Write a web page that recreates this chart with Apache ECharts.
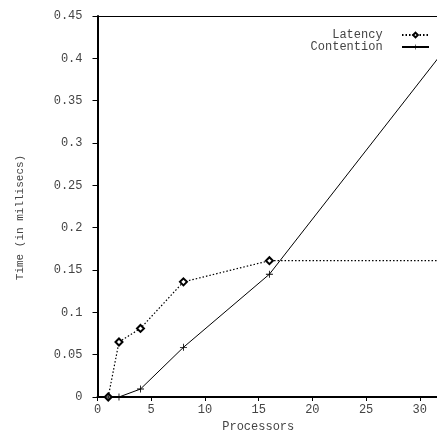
<!DOCTYPE html>
<html>
<head>
<meta charset="utf-8">
<script src="https://cdn.jsdelivr.net/npm/echarts@6/dist/echarts.min.js"></script>
<style>
  html, body { margin: 0; padding: 0; background: #fff; }
  #chart { width: 437px; height: 430px; }
</style>
</head>
<body>
<div id="chart"></div>
<script>
// processors on the x axis
var latencyX = [1, 2, 4, 8, 16, 32];
var latencyY = [0, 0.065, 0.081, 0.136, 0.161, 0.161];
var contentionX = [1, 2, 4, 8, 16, 32];
var contentionY = [0, 0, 0.0094, 0.0587, 0.145, 0.405];

function pairs(xs, ys) {
  var out = [];
  for (var i = 0; i < xs.length; i++) out.push([xs[i], ys[i]]);
  return out;
}

var mono = "Liberation Mono";
var grey = "#444";
var plus = "path://M4.4,0H5.6V4.4H10V5.6H5.6V10H4.4V5.6H0V4.4H4.4Z";

var myChart = echarts.init(document.getElementById("chart"));
var option = {
  animation: false,
  textStyle: { fontFamily: mono },
  grid: { left: 97.5, right: 0, top: 16, bottom: 33, outerBoundsMode: "none" },
  legend: {
    orient: "vertical",
    right: 7,
    top: 29,
    padding: 0,
    align: "right",
    itemWidth: 27,
    itemHeight: 6,
    itemGap: 0,
    textStyle: { fontFamily: mono, fontSize: 12, color: grey, lineHeight: 11 },
    formatter: function (name) { return name + "  "; },
    data: ["Latency", "Contention"],
  },
  xAxis: [
    {
      type: "value",
      min: 0,
      max: 31.6,
      interval: 5,
      name: "Processors",
      nameLocation: "middle",
      nameGap: 17,
      nameTextStyle: { fontFamily: mono, fontSize: 12, color: grey, padding: [0, 18, 0, 0] },
      splitLine: { show: false },
      axisLine: { lineStyle: { color: "#000", width: 2 } },
      axisTick: { length: 4, lineStyle: { color: "#000" } },
      axisLabel: {
        fontFamily: mono, fontSize: 12, color: grey, margin: 7,
        formatter: function (v) { return v % 5 === 0 ? String(v) : ""; },
      },
    },
    {
      // top frame line only
      type: "value",
      position: "top",
      min: 0,
      max: 31.6,
      axisLine: { show: true, lineStyle: { color: "#000", width: 1 } },
      axisTick: { show: false },
      axisLabel: { show: false },
      splitLine: { show: false },
    },
  ],
  yAxis: {
    type: "value",
    min: 0,
    max: 0.45,
    interval: 0.05,
    name: "Time (in millisecs)",
    nameLocation: "middle",
    nameGap: 72,
    nameTextStyle: { fontFamily: mono, fontSize: 11, color: grey, padding: [0, 22, 0, 0] },
    splitLine: { show: false },
    axisLine: { lineStyle: { color: "#000", width: 2 } },
    axisTick: { length: 5, lineStyle: { color: "#000" } },
    axisLabel: { fontFamily: mono, fontSize: 12, color: grey, margin: 15 },
  },
  series: [
    {
      name: "Latency",
      type: "line",
      data: pairs(latencyX, latencyY),
      symbol: "emptyDiamond",
      symbolSize: 7,
      showAllSymbol: true,
      itemStyle: { color: "#000", borderColor: "#000", borderWidth: 0.8 },
      lineStyle: { color: "#000", width: 1.2, type: [1.5, 2] },
    },
    {
      name: "Contention",
      type: "line",
      data: pairs(contentionX, contentionY),
      symbol: plus,
      symbolSize: 7,
      itemStyle: { color: "#000" },
      lineStyle: { color: "#000", width: 1 },
    },
  ],
};
myChart.setOption(option);
</script>
</body>
</html>
